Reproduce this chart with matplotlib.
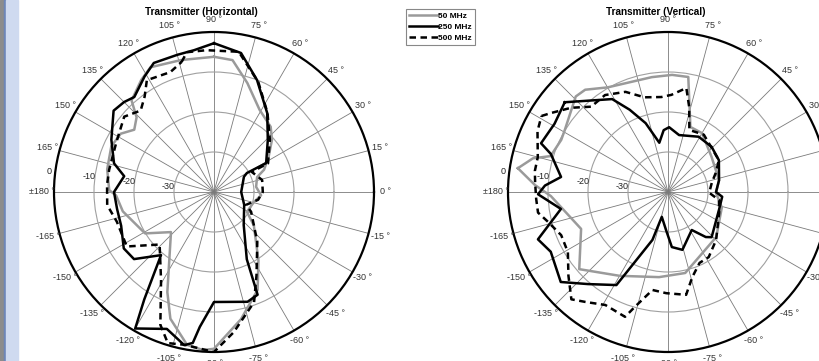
import numpy as np
import matplotlib.pyplot as plt
from matplotlib.lines import Line2D
from matplotlib.patches import Rectangle

plt.rcParams['font.family'] = ['Liberation Sans', 'DejaVu Sans']

# transmitter, horizontal polarisation: angle (deg) and level (dB), in path order
h50_ang = [90, 82, 73, 61, 49, 42, 33, 24, 19, 7, -4, -14, -31, -40, -57, -66, -78, -90, -94, -100,
           -109, -115, -137, -149, -168, -178, 179, 168, 156, 148, 142, 136, 132, 123, 117, 104]
h50_db = [-6.2, -6.7, -11.5, -16.5, -18.4, -20.5, -23.7, -26.3, -28.6, -29.4, -28.2, -29.7, -30.4, -27.0,
          -19.6, -13.2, -7.5, -0.8, -0.4, -1.2, -6.5, -12.4, -25.3, -19.9, -16.7, -15.5, -13.8, -12.7,
          -11.9, -12.5, -14.7, -13.1, -9.2, -6.6, -5.0, -6.0]

h250_ang = [90, 79, 69, 56, 44, 29, 30, 27, 0, -23, -48, -64, -67, -73, -90, -96, -98, -101, -109, -120,
            -123, -130, -140, -148, -160, -170, 180, 170, 164, 153, 141, 135, 130, 121, 115, 105, 98]
h250_db = [-2.8, -4.6, -10.0, -16.2, -21.3, -25.1, -30.5, -31.6, -33.2, -31.8, -28.9, -21.3, -12.1, -11.3,
           -12.5, -6.1, -1.9, -1.0, -3.8, -0.6, -8.0, -19.4, -13.9, -13.4, -15.3, -15.4, -15.0, -17.2,
           -14.0, -11.2, -7.7, -8.2, -9.0, -6.3, -4.4, -4.5, -4.2]

h500_ang = [104, 101, 93, 80, 68, 56, 43, 28, 28, 14, 0, -10, -22, -28, -49, -63, -70, -82, -90, -101,
            -107, -112, -121, -136, -148, -163, -173, 176, 168, 153, 140, 132, 126, 121, 110]
h500_db = [-6.5, -4.4, -4.5, -4.4, -10.4, -16.1, -20.9, -24.7, -29.3, -27.6, -27.8, -28.8, -31.4, -29.5,
           -23.5, -16.6, -10.7, -4.6, 0.0, -1.1, -0.5, -4.2, -14.3, -21.1, -14.3, -14.6, -13.1, -13.2,
           -13.2, -12.6, -10.7, -12.6, -10.5, -7.4, -8.1]

# transmitter, vertical polarisation
v50_ang = [171, 177, -178, -157, -139, -120, -96, -78, -43, -16, -1, 13, 39, 60, 71, 80, 88, 98, 120,
           129, 134, 149, 154, 163, 166]
v50_db = [-2.0, -6.7, -10.7, -16.4, -10.6, -15.8, -18.6, -19.3, -23.5, -26.0, -28.0, -26.9, -26.0, -23.0,
          -22.8, -10.8, -10.7, -11.0, -9.8, -7.1, -6.8, -9.9, -10.3, -9.3, -5.2]

v250_ang = [139, 149, 159, 162, 172, 177, -179, -171, -160, -153, -140, -131, -119, -108, -104, -93, -86,
            -76, -58, -50, -46, -19, -5, 0, 13, 32, 46, 61, 79, 89, 94, 100, 108, 115, 121]
v250_db = [-5.8, -6.9, -6.0, -9.2, -13.0, -9.2, -7.5, -12.9, -5.4, -7.1, -5.0, -9.5, -13.4, -27.4, -33.6,
           -30.5, -26.2, -25.1, -28.8, -25.3, -24.3, -26.5, -26.4, -28.0, -26.9, -25.0, -24.3, -24.2,
           -25.5, -23.8, -24.5, -27.5, -21.9, -17.3, -12.9]

v500_ang = [149, 146, 139, 132, 123, 113, 104, 94, 88, 80, 76, 71, 58, 32, 22, 12, -1, -9, -22, -45,
            -58, -66, -74, -80, -91, -99, -106, -109, -119, -127, -132, -140, -149, -158, -166, -171,
            -177, 176, 171, 165, 155]
v500_db = [-3.1, -4.7, -7.9, -11.3, -11.1, -12.8, -15.6, -16.2, -15.7, -13.6, -18.1, -23.6, -23.1, -25.0,
           -27.1, -28.8, -29.7, -27.1, -26.2, -23.0, -20.8, -20.6, -17.9, -13.9, -14.7, -15.2, -10.2,
           -7.0, -7.7, -5.6, -3.9, -7.5, -10.8, -11.2, -9.1, -7.1, -7.0, -6.7, -6.3, -6.3, -4.0]

labels = ['50 MHz', '250 MHz', '500 MHz']
colors = ['#9a9a9a', 'black', 'black']
styles = ['-', '-', (0, (2.6, 1.8))]

W, H = 819, 361
fig = plt.figure(figsize=(W / 100, H / 100), dpi=100)

# window frame strip on the left edge
fig.patches.append(Rectangle((0, 0), 4 / W, 1, transform=fig.transFigure, color='#8c8c8c', zorder=0))
fig.patches.append(Rectangle((4 / W, 0), 2 / W, 1, transform=fig.transFigure, color='#6d86b8', zorder=0))
fig.patches.append(Rectangle((6 / W, 0), 12 / W, 1, transform=fig.transFigure, color='#cfdaf0', zorder=0))


def closed(ang, db):
    th = np.unwrap(np.deg2rad(ang + ang[:1]))
    return th, np.array(db + db[:1])


def panel(cx, title, title_x, series):
    R = 160
    ax = fig.add_axes([(cx - R) / W, (H - 192 - R) / H, 2 * R / W, 2 * R / H], projection='polar')
    ax.set_ylim(-40, 0)
    ax.set_thetagrids(np.arange(0, 360, 15), labels=[])
    ax.set_rgrids([-30, -20, -10], labels=[])
    ax.xaxis.grid(True, color='#7a7a7a', lw=0.6)
    ax.yaxis.grid(True, color='#a0a0a0', lw=0.8)
    ax.spines['polar'].set_linewidth(1.6)
    ax.patch.set_alpha(0)

    for (ang, db), c, ls in zip(series, colors, styles):
        th, r = closed(ang, db)
        ax.plot(th, r, color=c, lw=1.8, ls=ls)

    for a in range(-165, 181, 15):
        lab = '±180 °' if a == 180 else f'{a} °'
        ax.text(np.deg2rad(a), 3.0, lab, ha='center', va='center', fontsize=6.5,
                color='#333333', clip_on=False)
    for rv in [0, -10, -20, -30]:
        ax.text(np.deg2rad(173), rv + 1.5, str(rv), ha='center', va='center', fontsize=6.5,
                color='#222222', clip_on=False)

    fig.text(title_x / W, 1 - 12 / H, title, ha='center', va='center', fontsize=7.2,
             fontweight='bold')
    return ax


panel(214, 'Transmitter (Horizontal)', 201,
      [(h50_ang, h50_db), (h250_ang, h250_db), (h500_ang, h500_db)])
panel(668, 'Transmitter (Vertical)', 656,
      [(v50_ang, v50_db), (v250_ang, v250_db), (v500_ang, v500_db)])

handles = [Line2D([], [], color=c, lw=1.8, ls=ls) for c, ls in zip(colors, styles)]
leg = fig.legend(handles, labels, loc='upper left', bbox_to_anchor=(406 / W, 1 - 9 / H),
                 prop={'size': 6, 'weight': 'bold'}, frameon=True, fancybox=False,
                 edgecolor='#888888', framealpha=1, handlelength=3.4, handletextpad=0.1,
                 borderpad=0.4, labelspacing=0.35, borderaxespad=0)
leg.get_frame().set_linewidth(0.8)

fig.savefig('out.png', dpi=100)
